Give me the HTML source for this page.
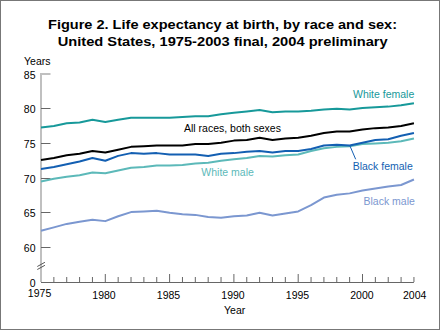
<!DOCTYPE html>
<html><head><meta charset="utf-8"><style>
html,body{margin:0;padding:0;background:#fff;width:440px;height:330px;overflow:hidden}
svg{display:block}
</style></head><body>
<svg width="440" height="330" viewBox="0 0 440 330">
<rect x="0.5" y="0.5" width="439" height="329" fill="#fff" stroke="#777" stroke-width="1"/>
<text x="48" y="29" textLength="349" lengthAdjust="spacingAndGlyphs" style="font-family:'Liberation Sans',sans-serif;font-size:13.5px;font-weight:bold" fill="#000">Figure 2. Life expectancy at birth, by race and sex:</text>
<text x="57.7" y="46" textLength="330" lengthAdjust="spacingAndGlyphs" style="font-family:'Liberation Sans',sans-serif;font-size:13.5px;font-weight:bold" fill="#000">United States, 1975-2003 final, 2004 preliminary</text>
<line x1="41" y1="73" x2="41" y2="282" stroke="#c0c0c0" stroke-width="2"/>
<line x1="40" y1="74" x2="50.5" y2="74" stroke="#c0c0c0" stroke-width="2"/>
<line x1="41" y1="282.5" x2="413.9" y2="282.5" stroke="#666" stroke-width="1"/>
<line x1="41" y1="108.50" x2="50.5" y2="108.50" stroke="#666" stroke-width="1"/>
<line x1="41" y1="143.50" x2="50.5" y2="143.50" stroke="#666" stroke-width="1"/>
<line x1="41" y1="178.50" x2="50.5" y2="178.50" stroke="#666" stroke-width="1"/>
<line x1="41" y1="212.50" x2="50.5" y2="212.50" stroke="#666" stroke-width="1"/>
<line x1="41" y1="247.50" x2="50.5" y2="247.50" stroke="#666" stroke-width="1"/>
<text x="35.5" y="78.50" text-anchor="end" style="font-family:'Liberation Sans',sans-serif;font-size:10.5px" fill="#000">85</text>
<text x="35.5" y="113.00" text-anchor="end" style="font-family:'Liberation Sans',sans-serif;font-size:10.5px" fill="#000">80</text>
<text x="35.5" y="148.00" text-anchor="end" style="font-family:'Liberation Sans',sans-serif;font-size:10.5px" fill="#000">75</text>
<text x="35.5" y="183.00" text-anchor="end" style="font-family:'Liberation Sans',sans-serif;font-size:10.5px" fill="#000">70</text>
<text x="35.5" y="217.00" text-anchor="end" style="font-family:'Liberation Sans',sans-serif;font-size:10.5px" fill="#000">65</text>
<text x="35.5" y="252.00" text-anchor="end" style="font-family:'Liberation Sans',sans-serif;font-size:10.5px" fill="#000">60</text>
<text x="35.5" y="286.5" text-anchor="end" style="font-family:'Liberation Sans',sans-serif;font-size:10.5px" fill="#000">0</text>
<line x1="53.86" y1="277.00" x2="53.86" y2="282" stroke="#666" stroke-width="1"/>
<line x1="66.72" y1="277.00" x2="66.72" y2="282" stroke="#666" stroke-width="1"/>
<line x1="79.58" y1="277.00" x2="79.58" y2="282" stroke="#666" stroke-width="1"/>
<line x1="92.44" y1="277.00" x2="92.44" y2="282" stroke="#666" stroke-width="1"/>
<line x1="105.30" y1="274.00" x2="105.30" y2="282" stroke="#666" stroke-width="1"/>
<line x1="118.16" y1="277.00" x2="118.16" y2="282" stroke="#666" stroke-width="1"/>
<line x1="131.02" y1="277.00" x2="131.02" y2="282" stroke="#666" stroke-width="1"/>
<line x1="143.88" y1="277.00" x2="143.88" y2="282" stroke="#666" stroke-width="1"/>
<line x1="156.74" y1="277.00" x2="156.74" y2="282" stroke="#666" stroke-width="1"/>
<line x1="169.60" y1="274.00" x2="169.60" y2="282" stroke="#666" stroke-width="1"/>
<line x1="182.46" y1="277.00" x2="182.46" y2="282" stroke="#666" stroke-width="1"/>
<line x1="195.32" y1="277.00" x2="195.32" y2="282" stroke="#666" stroke-width="1"/>
<line x1="208.18" y1="277.00" x2="208.18" y2="282" stroke="#666" stroke-width="1"/>
<line x1="221.04" y1="277.00" x2="221.04" y2="282" stroke="#666" stroke-width="1"/>
<line x1="233.90" y1="274.00" x2="233.90" y2="282" stroke="#666" stroke-width="1"/>
<line x1="246.76" y1="277.00" x2="246.76" y2="282" stroke="#666" stroke-width="1"/>
<line x1="259.62" y1="277.00" x2="259.62" y2="282" stroke="#666" stroke-width="1"/>
<line x1="272.48" y1="277.00" x2="272.48" y2="282" stroke="#666" stroke-width="1"/>
<line x1="285.34" y1="277.00" x2="285.34" y2="282" stroke="#666" stroke-width="1"/>
<line x1="298.20" y1="274.00" x2="298.20" y2="282" stroke="#666" stroke-width="1"/>
<line x1="311.06" y1="277.00" x2="311.06" y2="282" stroke="#666" stroke-width="1"/>
<line x1="323.92" y1="277.00" x2="323.92" y2="282" stroke="#666" stroke-width="1"/>
<line x1="336.78" y1="277.00" x2="336.78" y2="282" stroke="#666" stroke-width="1"/>
<line x1="349.64" y1="277.00" x2="349.64" y2="282" stroke="#666" stroke-width="1"/>
<line x1="362.50" y1="274.00" x2="362.50" y2="282" stroke="#666" stroke-width="1"/>
<line x1="375.36" y1="277.00" x2="375.36" y2="282" stroke="#666" stroke-width="1"/>
<line x1="388.22" y1="277.00" x2="388.22" y2="282" stroke="#666" stroke-width="1"/>
<line x1="401.08" y1="277.00" x2="401.08" y2="282" stroke="#666" stroke-width="1"/>
<line x1="413.94" y1="277.00" x2="413.94" y2="282" stroke="#666" stroke-width="1"/>
<text x="39.55" y="296.80" text-anchor="middle" style="font-family:'Liberation Sans',sans-serif;font-size:10.5px" fill="#000">1975</text>
<text x="104.00" y="298.60" text-anchor="middle" style="font-family:'Liberation Sans',sans-serif;font-size:10.5px" fill="#000">1980</text>
<text x="168.50" y="298.60" text-anchor="middle" style="font-family:'Liberation Sans',sans-serif;font-size:10.5px" fill="#000">1985</text>
<text x="233.00" y="298.60" text-anchor="middle" style="font-family:'Liberation Sans',sans-serif;font-size:10.5px" fill="#000">1990</text>
<text x="297.50" y="298.60" text-anchor="middle" style="font-family:'Liberation Sans',sans-serif;font-size:10.5px" fill="#000">1995</text>
<text x="361.90" y="298.60" text-anchor="middle" style="font-family:'Liberation Sans',sans-serif;font-size:10.5px" fill="#000">2000</text>
<text x="414.65" y="298.60" text-anchor="middle" style="font-family:'Liberation Sans',sans-serif;font-size:10.5px" fill="#000">2004</text>
<text x="24" y="65.2" style="font-family:'Liberation Sans',sans-serif;font-size:10.5px" fill="#000">Years</text>
<text x="224" y="314" style="font-family:'Liberation Sans',sans-serif;font-size:10.5px" fill="#000">Year</text>
<line x1="37.3" y1="266.5" x2="44.9" y2="262.3" stroke="#555" stroke-width="1"/>
<line x1="37.3" y1="269.5" x2="44.9" y2="265.3" stroke="#555" stroke-width="1"/>
<path d="M41.00 230.84 L53.86 227.37 L66.72 223.90 L79.58 221.82 L92.44 219.74 L105.30 221.13 L118.16 216.27 L131.02 212.11 L143.88 211.41 L156.74 210.72 L169.60 212.80 L182.46 214.19 L195.32 214.88 L208.18 216.96 L221.04 217.66 L233.90 216.27 L246.76 215.58 L259.62 212.80 L272.48 215.58 L285.34 213.49 L298.20 211.41 L311.06 205.17 L323.92 197.53 L336.78 194.76 L349.64 193.37 L362.50 190.59 L375.36 188.51 L388.22 186.43 L401.08 185.04 L413.94 179.49" fill="none" stroke="#7b97d0" stroke-width="2" stroke-linejoin="round"/>
<path d="M41.00 181.57 L53.86 178.79 L66.72 176.71 L79.58 175.32 L92.44 172.55 L105.30 173.24 L118.16 170.47 L131.02 167.69 L143.88 167.00 L156.74 165.61 L169.60 165.61 L182.46 164.91 L195.32 163.53 L208.18 162.83 L221.04 160.75 L233.90 159.36 L246.76 157.97 L259.62 155.89 L272.48 156.59 L285.34 155.20 L298.20 154.50 L311.06 151.03 L323.92 148.26 L336.78 146.87 L349.64 146.18 L362.50 144.09 L375.36 143.40 L388.22 142.71 L401.08 141.32 L413.94 138.54" fill="none" stroke="#5cb9b9" stroke-width="2" stroke-linejoin="round"/>
<path d="M41.00 169.08 L53.86 167.00 L66.72 164.22 L79.58 161.44 L92.44 157.97 L105.30 160.75 L118.16 155.89 L131.02 153.12 L143.88 153.81 L156.74 153.12 L169.60 154.50 L182.46 154.50 L195.32 154.50 L208.18 155.89 L221.04 153.81 L233.90 153.12 L246.76 151.73 L259.62 151.03 L272.48 152.42 L285.34 151.03 L298.20 151.03 L311.06 148.95 L323.92 145.48 L336.78 144.79 L349.64 145.48 L362.50 142.71 L375.36 139.93 L388.22 139.24 L401.08 135.77 L413.94 132.99" fill="none" stroke="#135fb2" stroke-width="2" stroke-linejoin="round"/>
<path d="M41.00 160.06 L53.86 157.97 L66.72 155.20 L79.58 153.81 L92.44 151.03 L105.30 152.42 L118.16 149.65 L131.02 146.87 L143.88 146.18 L156.74 145.48 L169.60 145.48 L182.46 145.48 L195.32 144.09 L208.18 144.09 L221.04 142.71 L233.90 140.62 L246.76 139.93 L259.62 137.85 L272.48 139.93 L285.34 138.54 L298.20 137.85 L311.06 135.77 L323.92 132.99 L336.78 131.60 L349.64 131.60 L362.50 129.52 L375.36 128.13 L388.22 127.44 L401.08 126.05 L413.94 123.27" fill="none" stroke="#000" stroke-width="2" stroke-linejoin="round"/>
<path d="M41.00 127.44 L53.86 126.05 L66.72 123.27 L79.58 122.58 L92.44 119.80 L105.30 121.89 L118.16 119.80 L131.02 117.72 L143.88 117.72 L156.74 117.72 L169.60 117.72 L182.46 117.03 L195.32 116.33 L208.18 116.33 L221.04 114.25 L233.90 112.86 L246.76 111.48 L259.62 110.09 L272.48 112.17 L285.34 111.48 L298.20 111.48 L311.06 110.78 L323.92 109.39 L336.78 108.70 L349.64 109.39 L362.50 108.01 L375.36 107.31 L388.22 106.62 L401.08 105.23 L413.94 103.15" fill="none" stroke="#17999a" stroke-width="2" stroke-linejoin="round"/>
<text x="353" y="97.6" style="font-family:'Liberation Sans',sans-serif;font-size:10.5px" fill="#17999a">White female</text>
<text x="184" y="131.6" style="font-family:'Liberation Sans',sans-serif;font-size:10.5px" fill="#000">All races, both sexes</text>
<line x1="349.7" y1="145.3" x2="355.7" y2="159.3" stroke="#135fb2" stroke-width="1"/>
<text x="352.7" y="169.5" style="font-family:'Liberation Sans',sans-serif;font-size:10.5px" fill="#135fb2">Black female</text>
<text x="201.3" y="175.5" style="font-family:'Liberation Sans',sans-serif;font-size:10.5px" fill="#5cb9b9">White male</text>
<text x="363.5" y="205.4" style="font-family:'Liberation Sans',sans-serif;font-size:10.5px" fill="#7b97d0">Black male</text>
</svg>
</body></html>
